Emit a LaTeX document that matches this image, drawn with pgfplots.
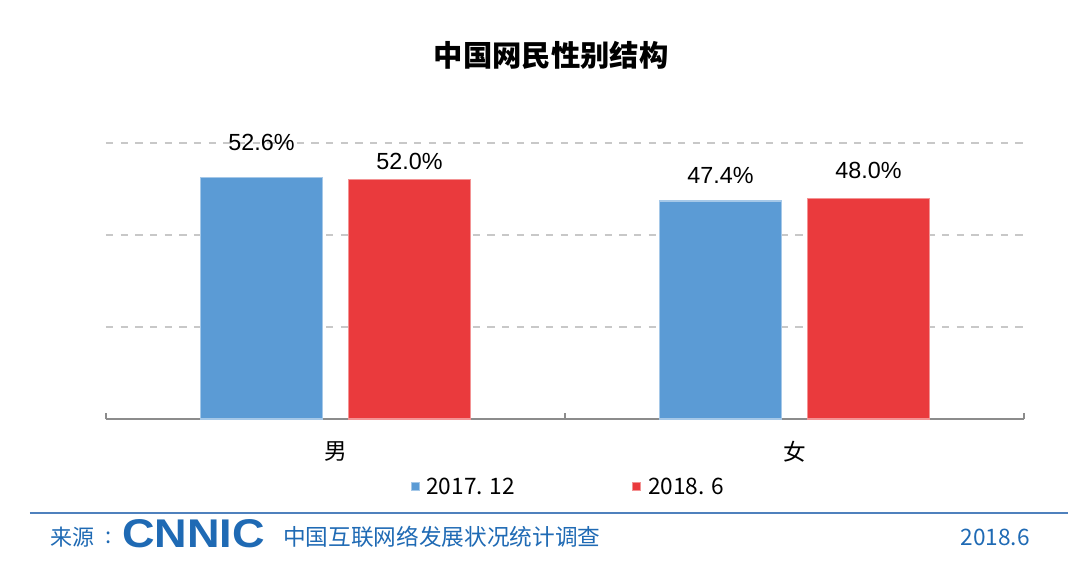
\documentclass[border=0pt]{standalone}
\usepackage{fontspec}
\setmainfont{Liberation Sans}
\newfontfamily\cjk{Noto Sans CJK SC}
\usepackage{graphicx}
\usepackage{pgfplots}
\usepackage{pgfplotstable}
\pgfplotsset{compat=1.18}

\definecolor{barblue}{HTML}{5B9BD5}
\definecolor{barred}{HTML}{EA3A3D}
\definecolor{gridgray}{HTML}{C8C8C8}
\definecolor{axisgray}{HTML}{8C8C8C}
\definecolor{lineblue}{HTML}{4F81BD}
\definecolor{footblue}{HTML}{1F6AB4}

% x y dy (dy = gap between bar top and its label, pt)
\pgfplotstableread{
x y dy
0 52.6 19.5
1 47.4 12.75
}\dataA
\pgfplotstableread{
x y dy
0 52.0 7.5
1 48.0 14.25
}\dataB

\begin{document}
\begin{tikzpicture}
\begin{axis}[
  scale only axis,
  width=688.5pt, height=207pt,
  xmin=-0.5, xmax=1.5, ymin=0, ymax=60,
  clip=false,
  ybar=19.5pt, bar width=91.5pt,
  axis line style={draw=none},
  xtick pos=bottom, ytick pos=left,
  ytick={20,40,60}, yticklabels={}, ytick style={draw=none},
  ymajorgrids,
  major grid style={gridgray, line width=0.8pt, dash pattern=on 5.5pt off 5.5pt},
  extra y ticks={0}, extra y tick labels={},
  extra y tick style={grid=major, major grid style={solid, axisgray, line width=1.1pt}},
  xtick={-0.5,0.5,1.5}, xticklabels={},
  major tick length=4.5pt,
  x tick style={axisgray, line width=1.1pt},
  extra x ticks={0,1}, extra x tick labels={男,女},
  extra x tick style={major tick length=0pt,
    xticklabel style={font=\cjk\fontsize{17}{17}\selectfont, anchor=center, yshift=-24.5pt}},
  /pgf/number format/assume math mode=true,
  nodes near coords={\pgfmathprintnumber[fixed,fixed zerofill,precision=1]{\pgfplotspointmeta}\%},
  nodes near coords style={anchor=south, inner sep=0pt, font=\fontsize{17.5}{17.5}\selectfont, text=black},
  visualization depends on={\thisrow{dy} \as \dy},
  every node near coord/.append style={yshift=\dy pt},
  legend style={at={(0.504,-0.246)}, anchor=center, draw=none, fill=none,
    legend columns=2, font=\cjk\fontsize{17}{17}\selectfont,
    /tikz/every odd column/.append style={column sep=3pt},
    /tikz/every even column/.append style={column sep=86pt}},
  legend image code/.code={\fill[#1] (0pt,-3pt) rectangle (6pt,3pt);},
  tick align=inside,
  xtick align=inside,
]
\addplot[fill=barblue, draw=barblue!55!white, line width=0.8pt] table[x=x, y=y] {\dataA};
\addplot[fill=barred, draw=barred!55!white, line width=0.8pt] table[x=x, y=y] {\dataB};
\legend{2017. 12, 2018. 6}
\end{axis}

\pgfresetboundingbox
\begin{scope}[shift={(-79.5pt,314.25pt)}, x=0.75pt, y=-0.75pt]
\useasboundingbox (0,0) rectangle (1076,586);
\node[font=\cjk\bfseries\fontsize{22}{22}\selectfont] at (551,55) {中国网民性别结构};
\draw[lineblue, line width=2.2pt] (30,513) -- (1068,513);
\node[anchor=west, inner sep=0pt, text=footblue, font=\cjk\fontsize{16.5}{16.5}\selectfont] at (50,537) {来源};
\node[inner sep=0pt, text=footblue, font=\cjk\fontsize{16.5}{16.5}\selectfont] at (109,538) {:};
\node[anchor=west, inner sep=0pt, text=footblue] at (122,534) {\resizebox{107pt}{21pt}{\bfseries CNNIC}};
\node[anchor=west, inner sep=0pt, text=footblue, font=\cjk\fontsize{17}{17}\selectfont] at (283,537) {中国互联网络发展状况统计调查};
\node[anchor=east, inner sep=0pt, text=footblue, font=\cjk\fontsize{17}{17}\selectfont] at (1030,537) {2018.6};
\end{scope}
\end{tikzpicture}
\end{document}
